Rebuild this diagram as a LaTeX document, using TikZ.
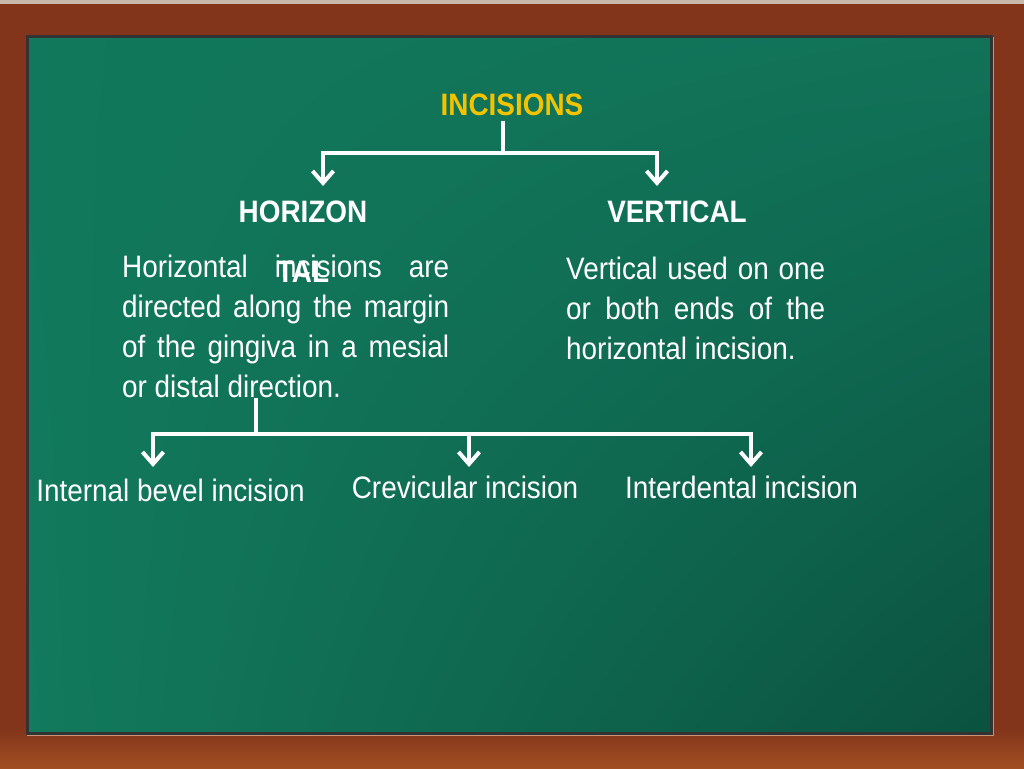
\documentclass[tikz,border=0pt]{standalone}
\usepackage{fontspec}
\setmainfont[FakeStretch=0.9]{Liberation Sans}
\usetikzlibrary{arrows.meta,shadings}
\definecolor{wood}{HTML}{82351B}
\definecolor{woodlow}{HTML}{A24E22}
\definecolor{woodtop}{HTML}{C9B9AA}
\definecolor{boardUL}{HTML}{11785B}
\definecolor{boardUR}{HTML}{117258}
\definecolor{boardLL}{HTML}{127A5D}
\definecolor{boardLR}{HTML}{0B5240}
\definecolor{incy}{HTML}{F3C300}
\begin{document}
\begin{tikzpicture}[x=1pt,y=-1pt,
  conn/.style={draw=white, line width=4pt},
  arr/.style={conn, -{Straight Barb[length=12pt,width=21pt]}},
  head/.style={font=\bfseries\fontsize{31}{60}\selectfont, inner sep=0pt, anchor=base},
  body/.style={text=white, font=\fontsize{31}{40}\selectfont, inner sep=0pt},
 ]
\useasboundingbox (0,0) rectangle (1024,768);
% frame
\fill[wood] (0,0) rectangle (1024,768);
\shade[top color=wood, bottom color=woodlow] (0,728) rectangle (1024,768);
\fill[woodtop] (0,0) rectangle (1024,4);
% board
\shade[upper left=boardUL, upper right=boardUR, lower left=boardLL, lower right=boardLR] (27,37) rectangle (991,733);
\draw[black!80, line width=3pt] (27,37) rectangle (991,733);
\draw[woodlow!60!white, line width=1.5pt] (27,735.5) -- (993.5,735.5) -- (993.5,37);

% headings
\node[head, text=incy] (inc) at (512,115) {INCISIONS};
\node[head, text=white] (hor) at (303,222) {\begin{tabular}[t]{@{}c@{}}HORIZON\\TAL\end{tabular}};
\node[head, text=white] (ver) at (677,222) {VERTICAL};

% paragraphs
\node[body, anchor=base west] (hp) at (122,277) {\parbox[t]{327pt}{%
\makebox[327pt][s]{Horizontal incisions are}\\
\makebox[327pt][s]{directed along the margin}\\
\makebox[327pt][s]{of the gingiva in a mesial}\\
or distal direction.}};
\node[body, anchor=base west] (vp) at (566,279) {\parbox[t]{259pt}{%
\makebox[259pt][s]{Vertical used on one}\\
\makebox[259pt][s]{or both ends of the}\\
horizontal incision.}};

% bottom labels
\node[body, anchor=base] (ib) at (170.5,501) {Internal bevel incision};
\node[body, anchor=base] (cr) at (465,498) {Crevicular incision};
\node[body, anchor=base] (id) at (741.5,498) {Interdental incision};

% connectors top
\coordinate (j1) at (503,153);
\coordinate (a1) at (323,186);
\coordinate (a2) at (657,186);
\draw[conn] ([yshift=-5pt]inc.south -| j1) -- (j1);
\draw[arr] (j1) -| (a1);
\draw[arr] (j1) -| (a2);

% connectors bottom
\coordinate (j2) at (256,434);
\coordinate (b1) at (153,467);
\coordinate (b2) at (469,467);
\coordinate (b3) at (751,467);
\draw[conn] (hp.south -| j2) -- (j2);
\draw[arr] (j2) -| (b1);
\draw[arr] (j2) -| (b3);
\draw[arr] (j2 -| b2) -- (b2);
\end{tikzpicture}
\end{document}
